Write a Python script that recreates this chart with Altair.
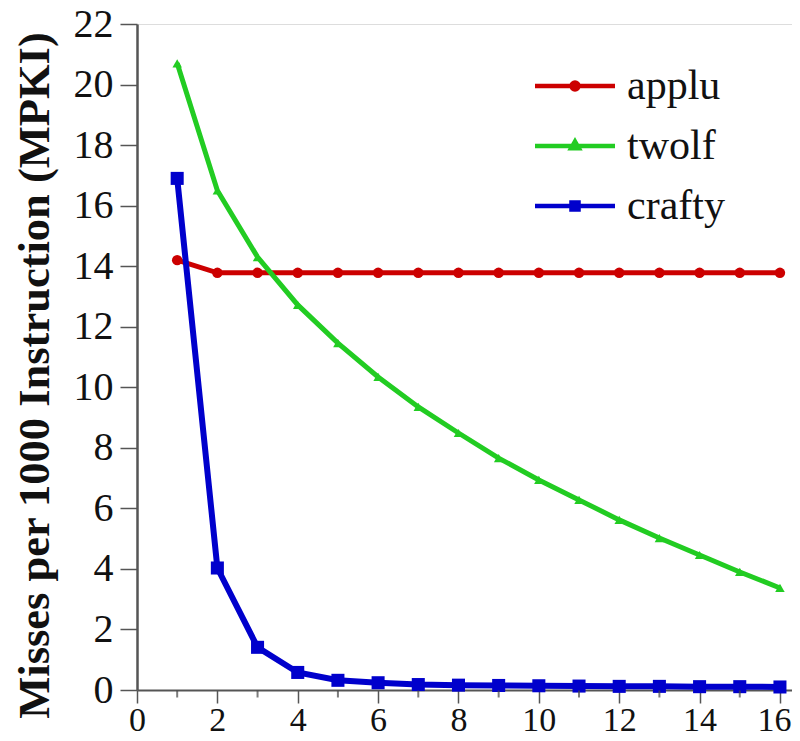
import altair as alt
import pandas as pd

x_vals = list(range(1, 17))
applu = [14.2, 13.78, 13.78, 13.78, 13.78, 13.78, 13.78, 13.78, 13.78, 13.78, 13.78, 13.78, 13.78, 13.78, 13.78, 13.78]
twolf = [20.7, 16.5, 14.3, 12.72, 11.46, 10.34, 9.35, 8.49, 7.66, 6.94, 6.28, 5.62, 5.02, 4.46, 3.9, 3.37]
crafty = [16.9, 4.03, 1.41, 0.58, 0.32, 0.24, 0.18, 0.16, 0.15, 0.14, 0.13, 0.12, 0.12, 0.11, 0.11, 0.1]

series_names = ["applu", "twolf", "crafty"]
series_colors = ["#cc0000", "#22cc22", "#0000cc"]
series_shapes = ["circle", "triangle-up", "square"]
series_sizes = [110, 90, 170]
series_widths = [5, 5, 6]
minor_ticks = [1, 3, 5, 7, 9, 11, 13, 15]

rows = []
for name, vals in zip(series_names, [applu, twolf, crafty]):
    for xv, yv in zip(x_vals, vals):
        rows.append({"x": xv, "y": yv, "series": name})
df = pd.DataFrame(rows)

FONT = "Liberation Serif"

xscale = alt.Scale(domain=[0, 16.3], nice=False)
yscale = alt.Scale(domain=[0, 22], nice=False)

xenc = alt.X("x:Q", scale=xscale,
             axis=alt.Axis(values=list(range(0, 17, 2)), title=None, grid=False,
                           tickSize=13, tickWidth=1.5, tickColor="#555", domainColor="#555",
                           domainWidth=2, labelFont=FONT, labelFontSize=34, labelColor="#111",
                           labelPadding=0, labelFlush=False,
                           labelOffset={"condition": {"test": "datum.value == 16", "value": -6}, "value": 0}))
yenc = alt.Y("y:Q", scale=yscale,
             axis=alt.Axis(values=list(range(0, 23, 2)), title="Misses per 1000 Instruction (MPKI)",
                           grid=False, tickSize=17, tickWidth=1.5, tickColor="#555",
                           domainColor="#555", domainWidth=2.5, labelFont=FONT, labelFontSize=40,
                           labelColor="#111", labelPadding=7, titleFont=FONT, titleFontSize=44.5,
                           titleFontWeight="bold", titleColor="#111", titlePadding=16, titleY=351))

layers = []
for name, col, shp, sz, w in zip(series_names, series_colors, series_shapes, series_sizes, series_widths):
    base = alt.Chart(df).transform_filter(alt.datum.series == name)
    line = base.mark_line(color=col, strokeWidth=w).encode(x=xenc, y=yenc)
    pts = base.mark_point(filled=True, shape=shp, size=sz, color=col, opacity=1).encode(x="x:Q", y="y:Q")
    layers += [line, pts]

minor_df = pd.DataFrame({"x": minor_ticks, "y": [0] * len(minor_ticks)})
minor = alt.Chart(minor_df).mark_tick(orient="vertical", color="#444", size=7, thickness=2, yOffset=4).encode(
    x="x:Q", y="y:Q")

legend_paths = [
    "M-2.5,0H2.5M-0.22,0A0.22,0.22,0,1,0,0.22,0A0.22,0.22,0,1,0,-0.22,0Z",
    "M-2.5,0H2.5M0,-0.28L0.24,0.14L-0.24,0.14Z",
    "M-2.5,0H2.5M-0.22,-0.22H0.22V0.22H-0.22Z",
]
leg = alt.Legend(orient="none", legendX=417, legendY=41, title=None, symbolSize=1024,
                 symbolStrokeWidth=4.5, labelFont=FONT, labelFontSize=42, labelColor="#111",
                 labelOffset=31, rowPadding=18, padding=0, symbolOpacity=1)
legend_layer = alt.Chart(df).mark_point(filled=True, opacity=0).encode(
    x="x:Q", y="y:Q",
    fill=alt.Fill("series:N", scale=alt.Scale(domain=series_names, range=series_colors), legend=leg),
    stroke=alt.Stroke("series:N", scale=alt.Scale(domain=series_names, range=series_colors), legend=leg),
    shape=alt.Shape("series:N", scale=alt.Scale(domain=series_names, range=legend_paths), legend=leg),
)

chart = alt.layer(*layers, minor, legend_layer).properties(
    width=655, height=666,
    autosize=alt.AutoSizeParams(type="none"),
    padding={"left": 129, "top": 16, "right": 0, "bottom": 43},
).configure_view(stroke="#999", strokeWidth=1.5).configure(background="white")

chart.save("out.html", embed_options={"renderer": "svg", "actions": False})
